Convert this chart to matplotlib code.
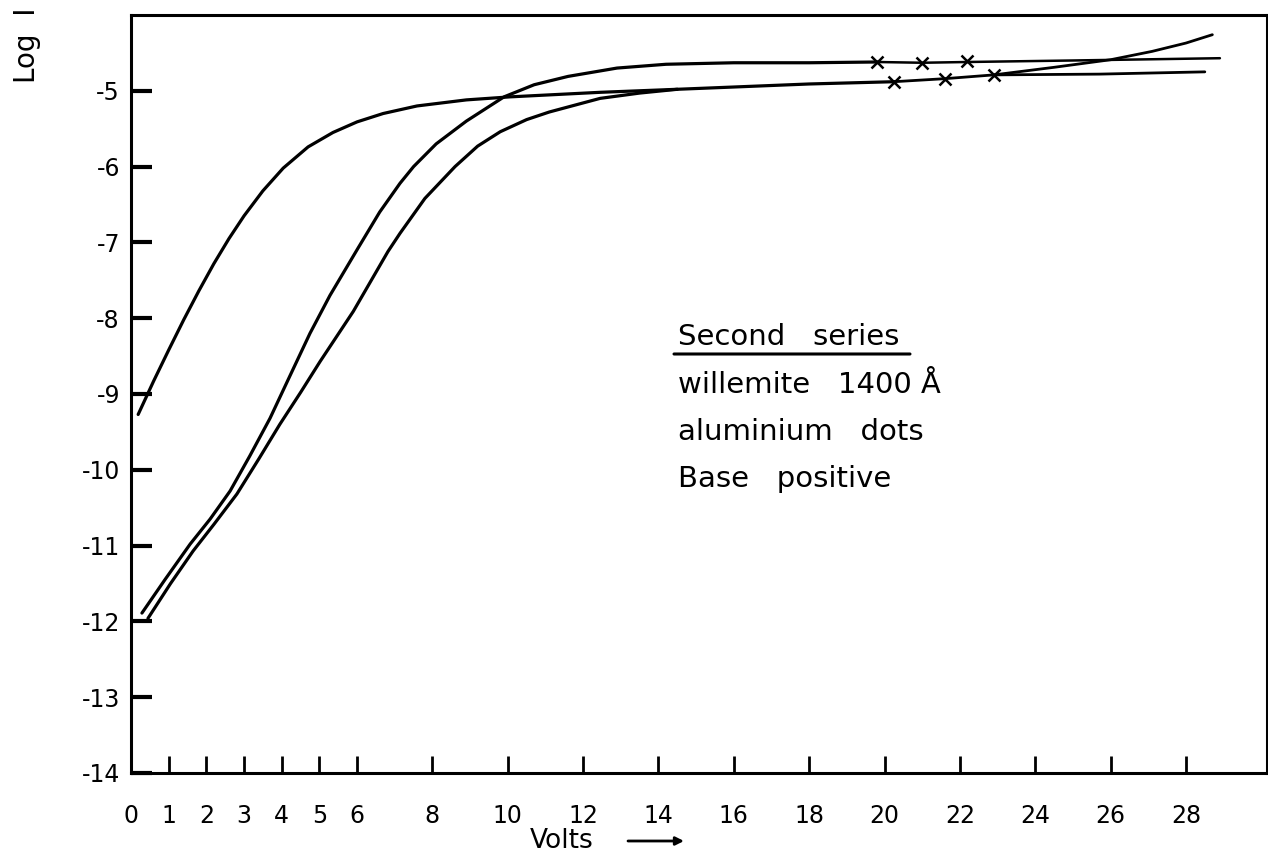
import matplotlib
matplotlib.use("Agg")
import matplotlib.pyplot as plt

plt.rcParams['font.family'] = ['DejaVu Sans']
plt.rcParams['axes.unicode_minus'] = False

# ---- data ----
# Curve A: left-most curve, rises early and flattens to the lower line
a_volts = [0.19, 0.6, 1.0, 1.4, 1.8, 2.2, 2.6, 3.0, 3.5, 4.04, 4.7, 5.36, 6.0,
           6.69, 7.59, 8.9, 10.06, 12.45, 14.5, 16.0, 18.0, 20.25]
a_logi = [-9.27, -8.83, -8.42, -8.02, -7.64, -7.28, -6.95, -6.65, -6.32, -6.02,
          -5.74, -5.55, -5.41, -5.30, -5.20, -5.12, -5.08, -5.02, -4.98, -4.95,
          -4.91, -4.88]

# Curve B: middle curve, reaches the upper plateau
b_volts = [0.29, 0.9, 1.57, 2.1, 2.63, 3.15, 3.69, 4.2, 4.75, 5.28, 6.02, 6.6,
           7.14, 7.5, 8.1, 8.9, 9.9, 10.7, 11.6, 12.9, 14.2, 16.0, 18.0, 19.8]
b_logi = [-11.89, -11.45, -10.98, -10.65, -10.28, -9.82, -9.32, -8.78, -8.2,
          -7.7, -7.08, -6.6, -6.22, -6.0, -5.7, -5.4, -5.08, -4.92, -4.81,
          -4.70, -4.65, -4.63, -4.63, -4.62]

# Curve C: right-most curve, joins curve A near 14 V
c_volts = [0.45, 1.05, 1.65, 2.2, 2.81, 3.4, 3.95, 4.5, 5.02, 5.9, 6.82, 7.14,
           7.8, 8.6, 9.2, 9.8, 10.5, 11.1, 12.45, 13.5, 14.5]
c_logi = [-11.96, -11.5, -11.07, -10.72, -10.32, -9.85, -9.4, -8.98, -8.57,
          -7.91, -7.12, -6.88, -6.42, -6.0, -5.73, -5.54, -5.38, -5.28, -5.1,
          -5.03, -4.98]

# Continuations beyond the measured points
upper_volts = [19.8, 21.0, 22.2, 25.0, 28.9]
upper_logi = [-4.62, -4.63, -4.62, -4.60, -4.57]

lower_volts = [20.25, 21.6, 22.9, 25.7, 28.5]
lower_logi = [-4.88, -4.84, -4.79, -4.78, -4.75]

rise_volts = [22.9, 24.5, 26.0, 27.1, 28.0, 28.7]
rise_logi = [-4.79, -4.69, -4.59, -4.48, -4.37, -4.26]

# Measured points (crosses)
upper_mark_volts = [19.8, 21.0, 22.2]
upper_mark_logi = [-4.62, -4.63, -4.61]
lower_mark_volts = [20.25, 21.6, 22.9]
lower_mark_logi = [-4.88, -4.84, -4.79]

x_ticks = [0, 1, 2, 3, 4, 5, 6, 8, 10, 12, 14, 16, 18, 20, 22, 24, 26, 28]
x_ticklabels = ['0', '1', '2', '3', '4', '5', '6', '8', '10', '12', '14', '16',
                '18', '20', '22', '24', '26', '28']
y_ticks = [-5, -6, -7, -8, -9, -10, -11, -12, -13, -14]
y_ticklabels = ['-5', '-6', '-7', '-8', '-9', '-10', '-11', '-12', '-13', '-14']

note_title = 'Second   series'
note_lines = ['willemite   1400 Å', 'aluminium   dots', 'Base   positive']

# ---- figure ----
W, H = 1268, 866
fig = plt.figure(figsize=(W / 100, H / 100), dpi=100)
ax = fig.add_axes([131 / W, 1 - 773 / H, (1267 - 131) / W, (773 - 15) / H])

lw = 2.3
for v, l, w in [(a_volts, a_logi, lw), (b_volts, b_logi, lw), (c_volts, c_logi, lw),
                (upper_volts, upper_logi, 1.8), (lower_volts, lower_logi, 2.0),
                (rise_volts, rise_logi, 2.0)]:
    ax.plot(v, l, color='black', lw=w, solid_capstyle='round', solid_joinstyle='round')

ax.plot(upper_mark_volts, upper_mark_logi, ls='none', marker='x', ms=9, mew=1.8,
        color='black')
ax.plot(lower_mark_volts, lower_mark_logi, ls='none', marker='x', ms=9, mew=1.8,
        color='black')

ax.set_xlim(0, 30.15)
ax.set_ylim(-14, -4.0)

ax.set_xticks(x_ticks)
ax.set_xticklabels(x_ticklabels, fontsize=17)
ax.set_yticks(y_ticks)
ax.set_yticklabels(y_ticklabels, fontsize=17)
ax.tick_params(axis='x', direction='in', length=12, width=2, pad=22)
ax.tick_params(axis='y', direction='in', length=15, width=3, pad=8)

for s in ax.spines.values():
    s.set_linewidth(2.2)
    s.set_color('black')

# annotation block
x0 = 678
fig.text(x0 / W, 1 - 345 / H, note_title, fontsize=21, ha='left', va='baseline')
ax.annotate('', xy=(910 / W, 1 - 354 / H), xytext=(674 / W, 1 - 354 / H),
            xycoords='figure fraction',
            arrowprops=dict(arrowstyle='-', lw=2.2, color='black',
                            shrinkA=0, shrinkB=0))
for t, yb in zip(note_lines, [393, 440, 487]):
    fig.text(x0 / W, 1 - yb / H, t, fontsize=21, ha='left', va='baseline')

# axis labels
fig.text(530 / W, 1 - 848 / H, 'Volts', fontsize=19, ha='left', va='baseline')
ax.annotate('', xy=(684 / W, 1 - 841 / H), xytext=(628 / W, 1 - 841 / H),
            xycoords='figure fraction',
            arrowprops=dict(arrowstyle='-|>', lw=2, color='black',
                            mutation_scale=12, shrinkA=0, shrinkB=0))
fig.text(27 / W, 1 - 83 / H, 'Log  I', fontsize=20, rotation=90, ha='center',
         va='bottom')

fig.savefig('out.png', dpi=100)
